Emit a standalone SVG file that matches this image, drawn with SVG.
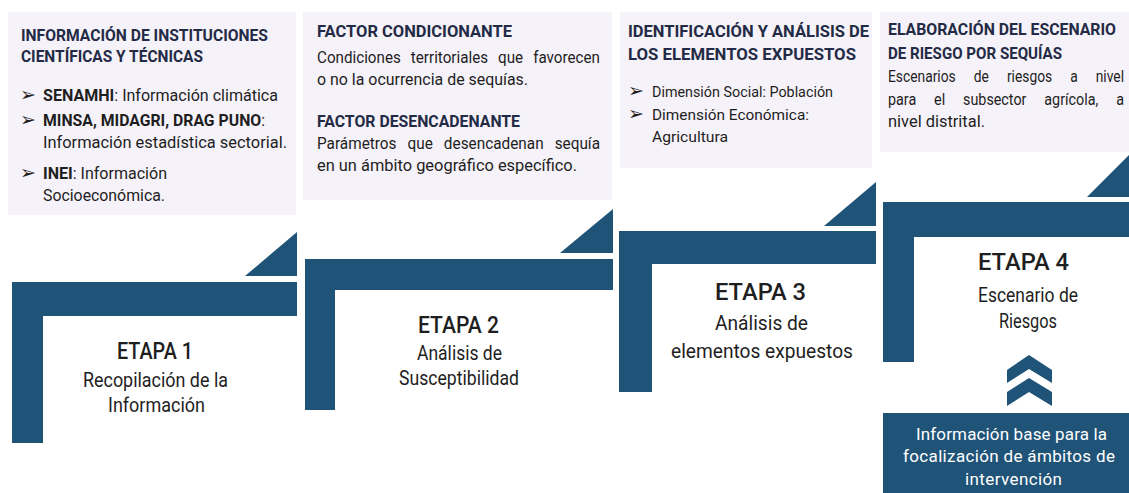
<svg xmlns="http://www.w3.org/2000/svg" width="1129" height="493" viewBox="0 0 1129 493">
<style>
text{font-family:Roboto,"Liberation Sans",sans-serif;}
.h{font-size:17px;font-weight:700;fill:#232a45;}
.b{font-size:17px;fill:#1e1e1e;}
.bb{font-weight:700;}
.s{font-size:15px;fill:#1e1e1e;}
.ar{font-family:"DejaVu Sans",sans-serif;font-size:19px;font-weight:700;fill:#1e1e1e;}
.et{font-size:24px;font-weight:500;fill:#1e1e1e;}
.sub{font-size:20px;fill:#1e1e1e;}
.w{font-size:17px;fill:#fff;}
.bar{fill:#1f5377;}
.pan{fill:#f6f2f9;}
</style>
<rect width="1129" height="493" fill="#ffffff"/>
<g id="panels">
<rect class="pan" x="8" y="12" width="288" height="203"/>
<rect class="pan" x="303" y="12" width="309" height="188"/>
<rect class="pan" x="620" y="12" width="252" height="156"/>
<rect class="pan" x="880" y="12" width="249" height="140"/>
</g>
<g id="connectors">
<polygon class="bar" points="245,276 297,276 297,232"/>
<polygon class="bar" points="560,253 613,253 613,209"/>
<polygon class="bar" points="824,226 876,226 876,182"/>
<polygon class="bar" points="1087,197 1129,197 1129,155"/>
<polygon class="bar" points="1029,355 1052,370 1052,383 1029,369 1007,383 1007,370"/>
<polygon class="bar" points="1029,378 1052,392 1052,406 1029,392 1007,406 1007,392"/>
</g>
<g id="stage1">
<path class="bar" d="M12,282 H297 V316 H43 V443 H12 Z"/>
<text class="h" x="21" y="41" textLength="247" lengthAdjust="spacingAndGlyphs">INFORMACIÓN DE INSTITUCIONES</text>
<text class="h" x="21" y="62" textLength="182" lengthAdjust="spacingAndGlyphs">CIENTÍFICAS Y TÉCNICAS</text>
<text class="ar" x="20" y="101">➢</text>
<text class="b" x="43" y="101" textLength="235" lengthAdjust="spacingAndGlyphs"><tspan class="bb">SENAMHI</tspan>: Información climática</text>
<text class="ar" x="20" y="126">➢</text>
<text class="b bb" x="43" y="126" textLength="222" lengthAdjust="spacingAndGlyphs">MINSA, MIDAGRI, DRAG PUNO<tspan font-weight="400">:</tspan></text>
<text class="b" x="43" y="148" textLength="244" lengthAdjust="spacingAndGlyphs">Información estadística sectorial.</text>
<text class="ar" x="20" y="179">➢</text>
<text class="b" x="43" y="179" textLength="124" lengthAdjust="spacingAndGlyphs"><tspan class="bb">INEI</tspan>: Información</text>
<text class="b" x="43" y="201" textLength="122" lengthAdjust="spacingAndGlyphs">Socioeconómica.</text>
<text class="et" x="117" y="359" textLength="76" lengthAdjust="spacingAndGlyphs">ETAPA 1</text>
<text class="sub" x="83" y="387" textLength="145" lengthAdjust="spacingAndGlyphs">Recopilación de la</text>
<text class="sub" x="108" y="412" textLength="97" lengthAdjust="spacingAndGlyphs">Información</text>
</g>
<g id="stage2">
<path class="bar" d="M305,259 H613 V290 H335 V410 H305 Z"/>
<text class="h" x="317" y="37" textLength="195" lengthAdjust="spacingAndGlyphs">FACTOR CONDICIONANTE</text>
<text class="b" x="317" y="63" textLength="283" lengthAdjust="spacingAndGlyphs" word-spacing="7">Condiciones territoriales que favorecen</text>
<text class="b" x="317" y="85" textLength="211" lengthAdjust="spacingAndGlyphs">o no la ocurrencia de sequías.</text>
<text class="h" x="317" y="127" textLength="203" lengthAdjust="spacingAndGlyphs">FACTOR DESENCADENANTE</text>
<text class="b" x="317" y="149" textLength="283" lengthAdjust="spacingAndGlyphs" word-spacing="8">Parámetros que desencadenan sequía</text>
<text class="b" x="317" y="171" textLength="260" lengthAdjust="spacingAndGlyphs">en un ámbito geográfico específico.</text>
<text class="et" x="418" y="333" textLength="81" lengthAdjust="spacingAndGlyphs">ETAPA 2</text>
<text class="sub" x="417" y="360" textLength="85" lengthAdjust="spacingAndGlyphs">Análisis de</text>
<text class="sub" x="399" y="385" textLength="120" lengthAdjust="spacingAndGlyphs">Susceptibilidad</text>
</g>
<g id="stage3">
<path class="bar" d="M619,231 H876 V264 H652 V392 H619 Z"/>
<text class="h" x="628" y="37" textLength="241" lengthAdjust="spacingAndGlyphs">IDENTIFICACIÓN Y ANÁLISIS DE</text>
<text class="h" x="628" y="60" textLength="228" lengthAdjust="spacingAndGlyphs">LOS ELEMENTOS EXPUESTOS</text>
<text class="ar" x="628" y="97" font-size="16">➢</text>
<text class="s" x="652" y="97" textLength="181" lengthAdjust="spacingAndGlyphs">Dimensión Social: Población</text>
<text class="ar" x="628" y="120" font-size="16">➢</text>
<text class="s" x="652" y="120" textLength="157" lengthAdjust="spacingAndGlyphs">Dimensión Económica:</text>
<text class="s" x="652" y="142" textLength="76" lengthAdjust="spacingAndGlyphs">Agricultura</text>
<text class="et" x="715" y="300" textLength="91" lengthAdjust="spacingAndGlyphs">ETAPA 3</text>
<text class="sub" x="715" y="330" textLength="93" lengthAdjust="spacingAndGlyphs">Análisis de</text>
<text class="sub" x="671" y="358" textLength="182" lengthAdjust="spacingAndGlyphs">elementos expuestos</text>
</g>
<g id="stage4">
<path class="bar" d="M883,202 H1129 V237 H914 V362 H883 Z"/>
<text class="h" x="888" y="35" textLength="228" lengthAdjust="spacingAndGlyphs">ELABORACIÓN DEL ESCENARIO</text>
<text class="h" x="888" y="59" textLength="174" lengthAdjust="spacingAndGlyphs">DE RIESGO POR SEQUÍAS</text>
<text class="b" x="888" y="82" textLength="236" lengthAdjust="spacingAndGlyphs" word-spacing="18">Escenarios de riesgos a nivel</text>
<text class="b" x="888" y="105" textLength="236" lengthAdjust="spacingAndGlyphs" word-spacing="17">para el subsector agrícola, a</text>
<text class="b" x="888" y="127" textLength="97" lengthAdjust="spacingAndGlyphs">nivel distrital.</text>
<text class="et" x="978" y="270" textLength="91" lengthAdjust="spacingAndGlyphs">ETAPA 4</text>
<text class="sub" x="978" y="302" textLength="100" lengthAdjust="spacingAndGlyphs">Escenario de</text>
<text class="sub" x="999" y="328" textLength="58" lengthAdjust="spacingAndGlyphs">Riesgos</text>
</g>
<g id="base-info">
<rect class="bar" x="883" y="413" width="246" height="80"/>
<text class="w" x="916" y="440" textLength="191" lengthAdjust="spacing">Información base para la</text>
<text class="w" x="903" y="462" textLength="212" lengthAdjust="spacing">focalización de ámbitos de</text>
<text class="w" x="965" y="485" textLength="97" lengthAdjust="spacing">intervención</text>
</g>
</svg>
